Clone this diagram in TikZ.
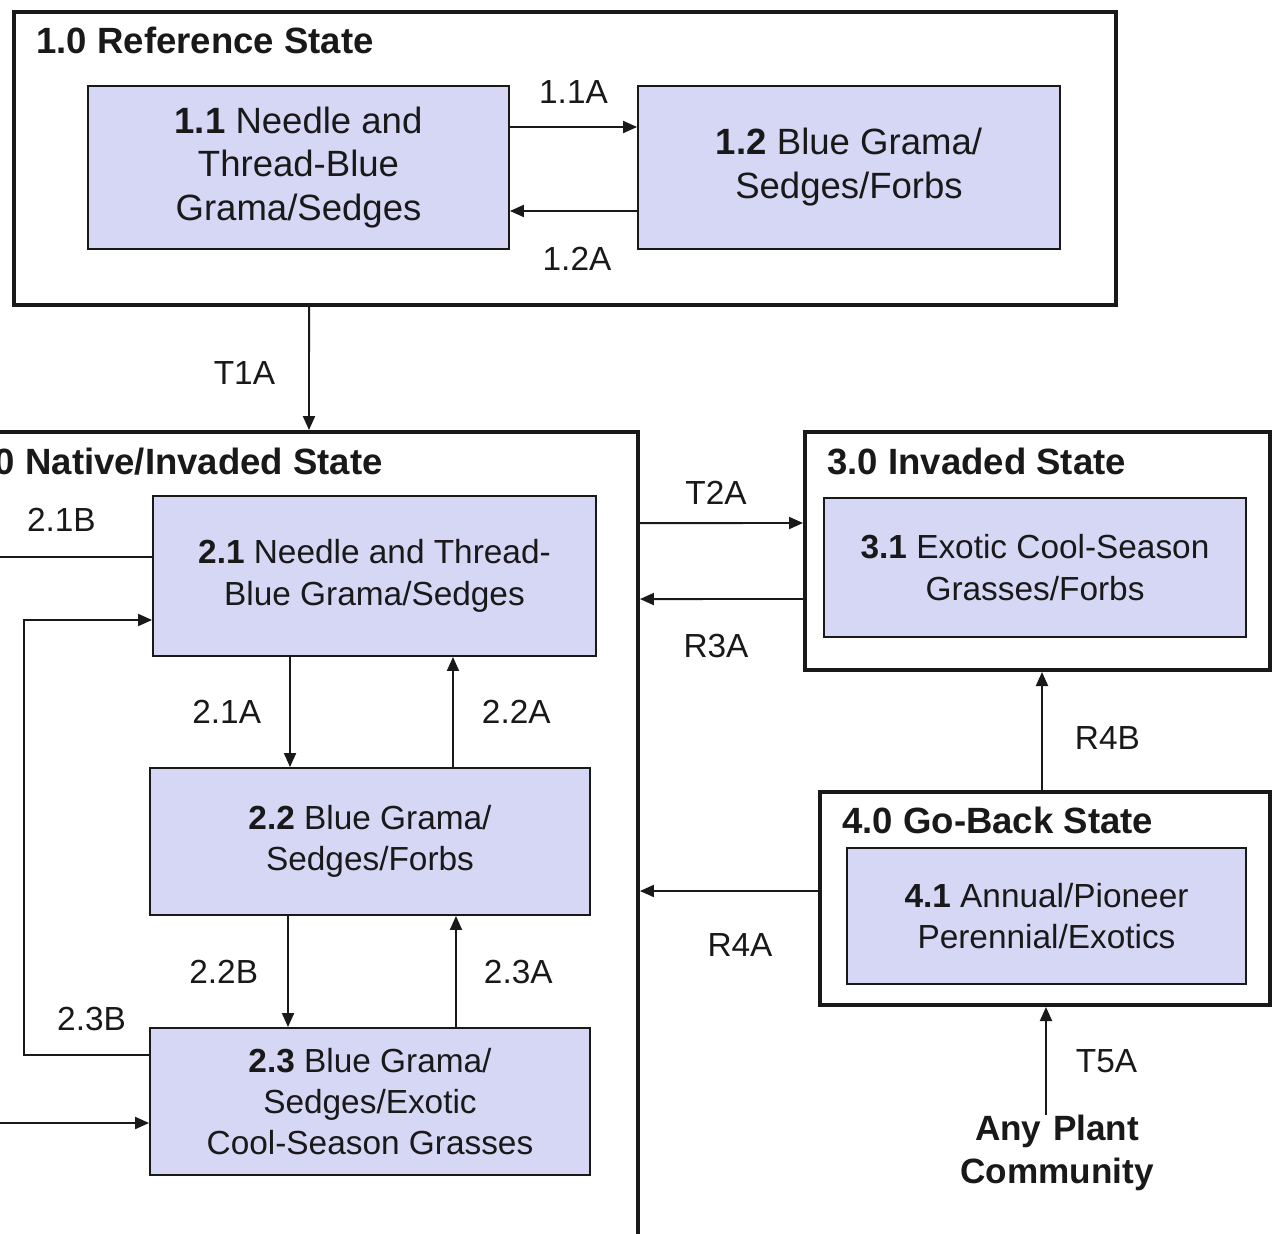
\documentclass[tikz,border=0pt]{standalone}
\usepackage{fontspec}
\setmainfont{Liberation Sans}
\usetikzlibrary{arrows.meta}
\definecolor{commfill}{RGB}{214,214,245}
\definecolor{ink}{RGB}{25,25,25}

\begin{document}
\begin{tikzpicture}[x=0.02cm, y=-0.02cm, font=\fontsize{19}{23.5}\selectfont, text=ink,
  state/.style={draw=ink, line width=2.3pt, fill=white, inner sep=0},
  comm/.style={draw=ink, line width=1.1pt, fill=commfill, align=center, inner sep=0},
  bigcomm/.style={comm, font=\fontsize{20.8}{25}\selectfont},
  title/.style={anchor=base west, inner sep=0, font=\fontsize{20.8}{25}\selectfont\bfseries},
  lab/.style={inner sep=0},
  arr/.style={draw=ink, line width=1.1pt, -{Triangle[length=2.8mm, width=2.4mm]}}]
\useasboundingbox[fill=white] (0,0) rectangle (1272,1234);
\node[state, minimum width=22.04cm, minimum height=5.86cm] (s10) at (565,158.5) {};
\node[state, minimum width=13.92cm, minimum height=16.6cm] (s20) at (290,847) {};
\node[state, minimum width=9.3cm, minimum height=4.76cm] (s30) at (1037.5,551) {};
\node[state, minimum width=9.0cm, minimum height=4.26cm] (s40) at (1045,898.5) {};
\node[title] (t10) at ([shift={(24,43)}]s10.north west) {1.0 Reference State};
\node[title] (t20) at ([shift={(24,44)}]s20.north west) {2.0 Native/Invaded State};
\node[title] (t30) at ([shift={(24,44)}]s30.north west) {3.0 Invaded State};
\node[title] (t40) at ([shift={(24,43)}]s40.north west) {4.0 Go-Back State};
\node[bigcomm, minimum width=8.42cm, minimum height=3.26cm] (n11) at (298.5,167.5) {\textbf{1.1} Needle and\\Thread-Blue\\Grama/Sedges};
\node[bigcomm, minimum width=8.44cm, minimum height=3.26cm] (n12) at (849,167.5) {\textbf{1.2} Blue Grama/\\Sedges/Forbs};
\node[comm, minimum width=8.86cm, minimum height=3.2cm] (n21) at (374.5,576) {\textbf{2.1} Needle and Thread-\\Blue Grama/Sedges};
\node[comm, minimum width=8.8cm, minimum height=2.94cm] (n22) at (370,841.5) {\textbf{2.2} Blue Grama/\\Sedges/Forbs};
\node[comm, minimum width=8.8cm, minimum height=2.94cm] (n23) at (370,1101.5) {\textbf{2.3} Blue Grama/\\Sedges/Exotic\\Cool-Season Grasses};
\node[comm, minimum width=8.44cm, minimum height=2.78cm] (n31) at (1035,567.5) {\textbf{3.1} Exotic Cool-Season\\Grasses/Forbs};
\node[comm, minimum width=7.98cm, minimum height=2.72cm] (n41) at (1046.5,916) {\textbf{4.1} Annual/Pioneer\\Perennial/Exotics};
\node[align=center, inner sep=0, font=\fontsize{20}{24.5}\selectfont\bfseries] (any) at (1057,1153) {Any\,\,Plant\\Community};
\draw[arr] ([yshift=0.81cm]n11.east) -- node[lab, above=0.46cm]{1.1A} ([yshift=0.81cm]n12.west);
\draw[arr] ([yshift=-0.87cm]n12.west) -- node[lab, below=0.7cm, xshift=0.07cm]{1.2A} ([yshift=-0.87cm]n11.east);
\draw[arr] ([xshift=-5.12cm]s10.south) -- node[lab, left=0.66cm, pos=0.535]{T1A} ([xshift=0.38cm]s20.north);
\draw[arr] ([yshift=6.48cm]s20.east) -- node[lab, above=0.35cm, xshift=-0.11cm]{T2A} ([yshift=0.56cm]s30.west);
\draw[arr] ([yshift=-0.96cm]s30.west) -- node[lab, below=0.68cm, xshift=-0.11cm]{R3A} ([yshift=4.96cm]s20.east);
\draw[arr] ([xshift=-1.69cm]n21.south) -- node[lab, left=0.56cm]{2.1A} ([xshift=-1.6cm]n22.north);
\draw[arr] ([xshift=1.66cm]n22.north) -- node[lab, right=0.56cm]{2.2A} ([xshift=1.57cm]n21.south);
\draw[arr] ([xshift=-1.64cm]n22.south) -- node[lab, left=0.58cm]{2.2B} ([xshift=-1.64cm]n23.north);
\draw[arr] ([xshift=1.72cm]n23.north) -- node[lab, right=0.54cm]{2.3A} ([xshift=1.72cm]n22.south);
\draw[arr] ([yshift=0.38cm]n21.west) -- node[lab, above=0.5cm, pos=0.47]{2.1B} ++(-193,0) |- ([yshift=-0.43cm]n23.west);
\draw[arr] ([yshift=0.93cm]n23.west) -- node[lab, above=0.46cm, pos=0.46]{2.3B} ++(-125,0) |- ([yshift=-0.88cm]n21.west);
\draw[arr] ([xshift=-0.06cm]s40.north) -- node[lab, right=0.64cm, yshift=-0.14cm]{R4B} ([xshift=0.09cm]s30.south);
\draw[arr] ([yshift=0.15cm]s40.west) -- node[lab, below=0.84cm, xshift=0.22cm]{R4A} ([yshift=-0.88cm]s20.east);
\draw[arr] ([xshift=-0.22cm]any.north) -- node[lab, right=0.58cm]{T5A} ([xshift=0.02cm]s40.south);
\end{tikzpicture}
\end{document}
